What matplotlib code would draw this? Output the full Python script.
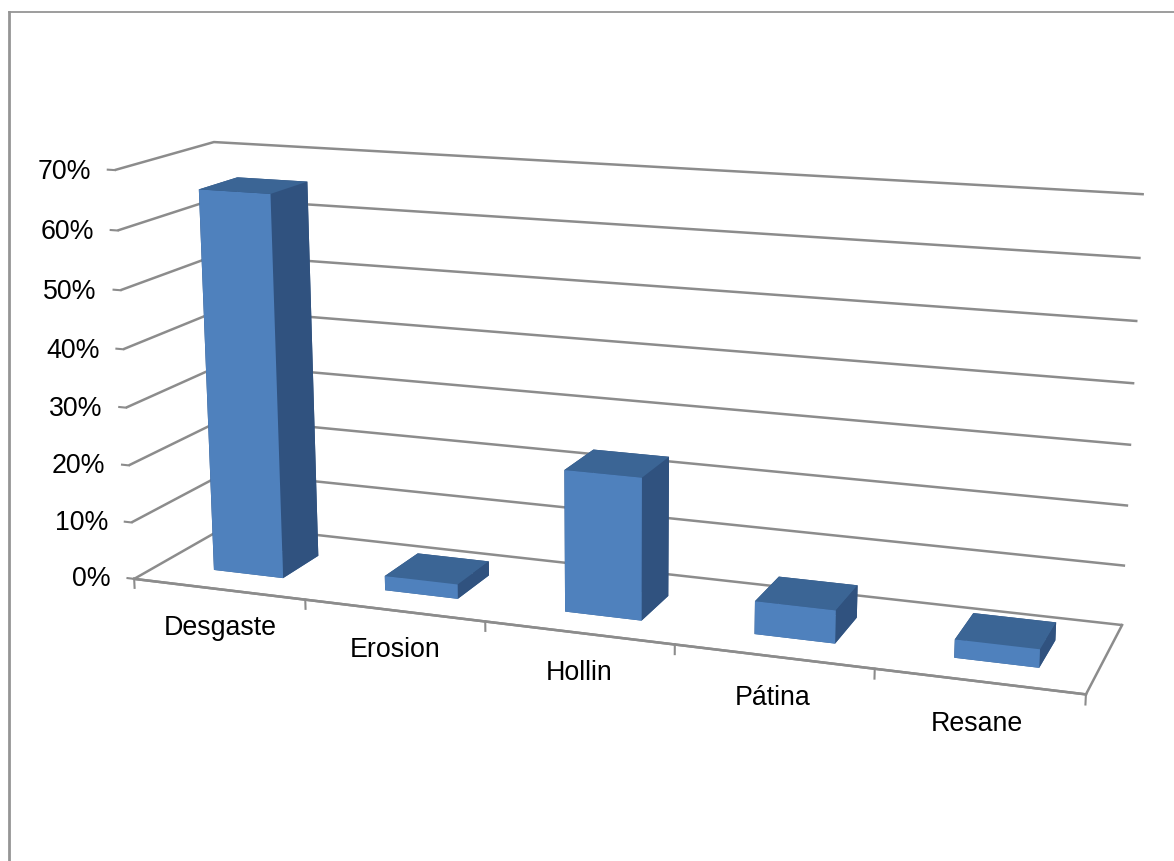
import matplotlib
matplotlib.use('Agg')
import matplotlib.pyplot as plt
from matplotlib.lines import Line2D
from matplotlib.ticker import NullFormatter
from mpl_toolkits.mplot3d import proj3d

categories = ['Desgaste', 'Erosion', 'Hollin', 'Pátina', 'Resane']
values = [66, 2.5, 24, 5.5, 3]
z_ticks = [0, 10, 20, 30, 40, 50, 60, 70]

plt.rcParams['font.family'] = ['Liberation Sans', 'DejaVu Sans']

fig = plt.figure(figsize=(11.74, 8.61), dpi=100)
# chart frame, only top and left show in the crop
fig.add_artist(Line2D([8.5/1174, 1], [1 - 12/861, 1 - 12/861], color='#8c8c8c', linewidth=1.2))
fig.add_artist(Line2D([8.5/1174, 8.5/1174], [0, 1 - 12/861], color='#959595', linewidth=2.0))

ax = fig.add_axes([16/1174, 23/861, 1, 1], projection='3d')
ax.set_proj_type('persp', focal_length=0.55)
ax.view_init(elev=14, azim=-70)
ax.set_box_aspect((1015, 210, 440), zoom=1.247)
ax.set_xlim(0, 5)
ax.set_ylim(0, 1)
ax.set_zlim(0, 70)
ax.patch.set_alpha(0)

# panes white, only the z gridlines on the walls
for axis in (ax.xaxis, ax.yaxis, ax.zaxis):
    axis.set_pane_color((1, 1, 1, 0))
    axis.pane.set_edgecolor('#8c8c8c')
    axis.pane.set_linewidth(1.8)
    axis.line.set_color('#8c8c8c')
    axis.line.set_linewidth(1.8)
    axis._axinfo['tick']['inward_factor'] = 0
    axis._axinfo['tick']['outward_factor'] = 0.1
    axis._axinfo['tick']['linewidth'] = {True: 1.5, False: 1.0}
ax.xaxis._axinfo['grid']['linewidth'] = 0
ax.yaxis._axinfo['grid']['linewidth'] = 0
ax.zaxis._axinfo['grid'].update(color='#8c8c8c', linewidth=1.8)
ax.zaxis._axinfo['juggled'] = (1, 0, 2)

ax.set_xticks([])
ax.set_yticks([])
ax.set_zticks(z_ticks)
ax.zaxis.set_major_formatter(NullFormatter())
ax.tick_params(axis='z', color='#8c8c8c')

# one bar per category, faces are -z +z -y +y -x +x
front = '#4f81bd'
top = '#3b6595'
side = '#30527f'
n = len(categories)
face_colors = [top, top, front, side, side, side] * n
bars = ax.bar3d([i + 0.32 for i in range(n)], [0.27] * n, [0] * n, [0.41] * n, [0.4] * n, values,
                color=face_colors, shade=False, edgecolor='none')
bars.set_clip_on(False)

# category ticks hang under the front edge
for i in range(n + 1):
    ax.plot([i, i], [0, 0], [0, -1.6], color='#8c8c8c', linewidth=1.5, clip_on=False)

# labels go through the 3d projection, then sit as plain 2d text
M = ax.get_proj()


def put_label(x, y, z, label, ha):
    px, py, _ = proj3d.proj_transform(x, y, z, M)
    ax.text2D(px, py, label, transform=ax.transData, fontsize=19.3, ha=ha, va='center', clip_on=False)


for i, name in enumerate(categories):
    put_label(i + 0.5, 0, -6.8, name, 'center')

for t in z_ticks:
    put_label(-0.14, 0, t - 0.6, f'{t}%', 'right')

fig.savefig('out.png', dpi=100)
